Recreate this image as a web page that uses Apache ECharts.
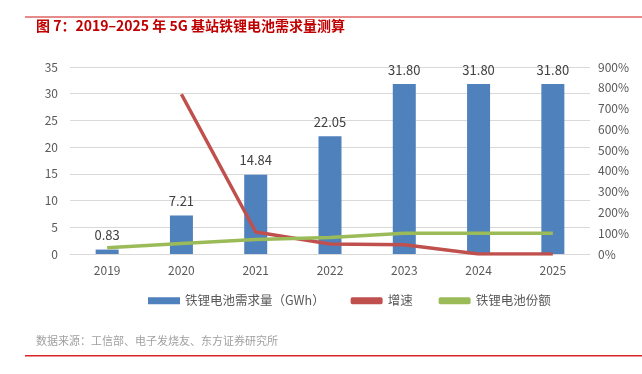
<!DOCTYPE html>
<html><head><meta charset="utf-8">
<script src="https://cdn.jsdelivr.net/npm/echarts@6/dist/echarts.min.js"></script>
<style>html,body{margin:0;padding:0;background:#fff}#c{width:642px;height:374px}</style>
</head><body><div id="c"></div>
<script>
const categories = ['2019','2020','2021','2022','2023','2024','2025'];
const demand = [0.83, 7.21, 14.84, 22.05, 31.80, 31.80, 31.80];
const growth = [null, 768.7, 105.8, 48.6, 44.2, 0, 0];
const share = [30, 50, 70, 80, 100, 100, 100];
const leftTicks = {min: 0, max: 35, interval: 5};
const rightTicks = {min: 0, max: 900, interval: 100};

const chart = echarts.init(document.getElementById('c'));
const font = '"Microsoft YaHei","Noto Sans CJK SC",sans-serif';
chart.setOption({
  animation: false,
  textStyle: {fontFamily: font},
  grid: {left: 70, right: 52, top: 67, bottom: 120},
  legend: {
    bottom: 62, left: 143, itemGap: 26, itemWidth: 32, itemHeight: 7,
    textStyle: {color: '#595959', fontSize: 12.5, fontFamily: font},
    data: [
      {name: '铁锂电池需求量（GWh）', icon: 'rect'},
      {name: '增速', icon: 'roundRect'},
      {name: '铁锂电池份额', icon: 'roundRect'}
    ]
  },
  xAxis: {
    type: 'category', data: categories,
    axisLine: {lineStyle: {color: '#d9d9d9'}},
    axisTick: {show: false},
    axisLabel: {color: '#595959', fontSize: 12, margin: 10}
  },
  yAxis: [
    {type: 'value', min: leftTicks.min, max: leftTicks.max, interval: leftTicks.interval,
     axisLabel: {color: '#595959', fontSize: 12, margin: 12},
     splitLine: {lineStyle: {color: '#d9d9d9'}}},
    {type: 'value', min: rightTicks.min, max: rightTicks.max, interval: rightTicks.interval,
     axisLabel: {color: '#595959', fontSize: 12, formatter: '{value}%', margin: 8},
     splitLine: {show: false}}
  ],
  series: [
    {name: '铁锂电池需求量（GWh）', type: 'bar', data: demand, barWidth: 23,
     itemStyle: {color: '#4f81bd'},
     label: {show: true, position: 'top', distance: 8, color: '#404040', fontSize: 13,
       formatter: p => p.value.toFixed(2)}},
    {name: '增速', type: 'line', yAxisIndex: 1, data: growth, symbol: 'none',
     lineStyle: {color: '#c0504d', width: 3.5}, itemStyle: {color: '#c0504d'}},
    {name: '铁锂电池份额', type: 'line', yAxisIndex: 1, data: share, symbol: 'none',
     lineStyle: {color: '#9bbb59', width: 3.5}, itemStyle: {color: '#9bbb59'}}
  ],
  graphic: [
    {type: 'rect', shape: {x: 25, y: 16, width: 617, height: 2}, style: {fill: '#e68a8a'}},
    {type: 'text', left: 36, top: 19, style: {text: '图 7：2019–2025 年 5G 基站铁锂电池需求量测算',
      fill: '#c00000', font: 'bold 14px ' + font}},
    {type: 'text', left: 36, top: 335, style: {text: '数据来源：工信部、电子发烧友、东方证券研究所',
      fill: '#a0a0a0', font: '11px ' + font}},
    {type: 'rect', shape: {x: 25, y: 355, width: 617, height: 1.5}, style: {fill: '#d9272e'}}
  ]
});
</script></body></html>
